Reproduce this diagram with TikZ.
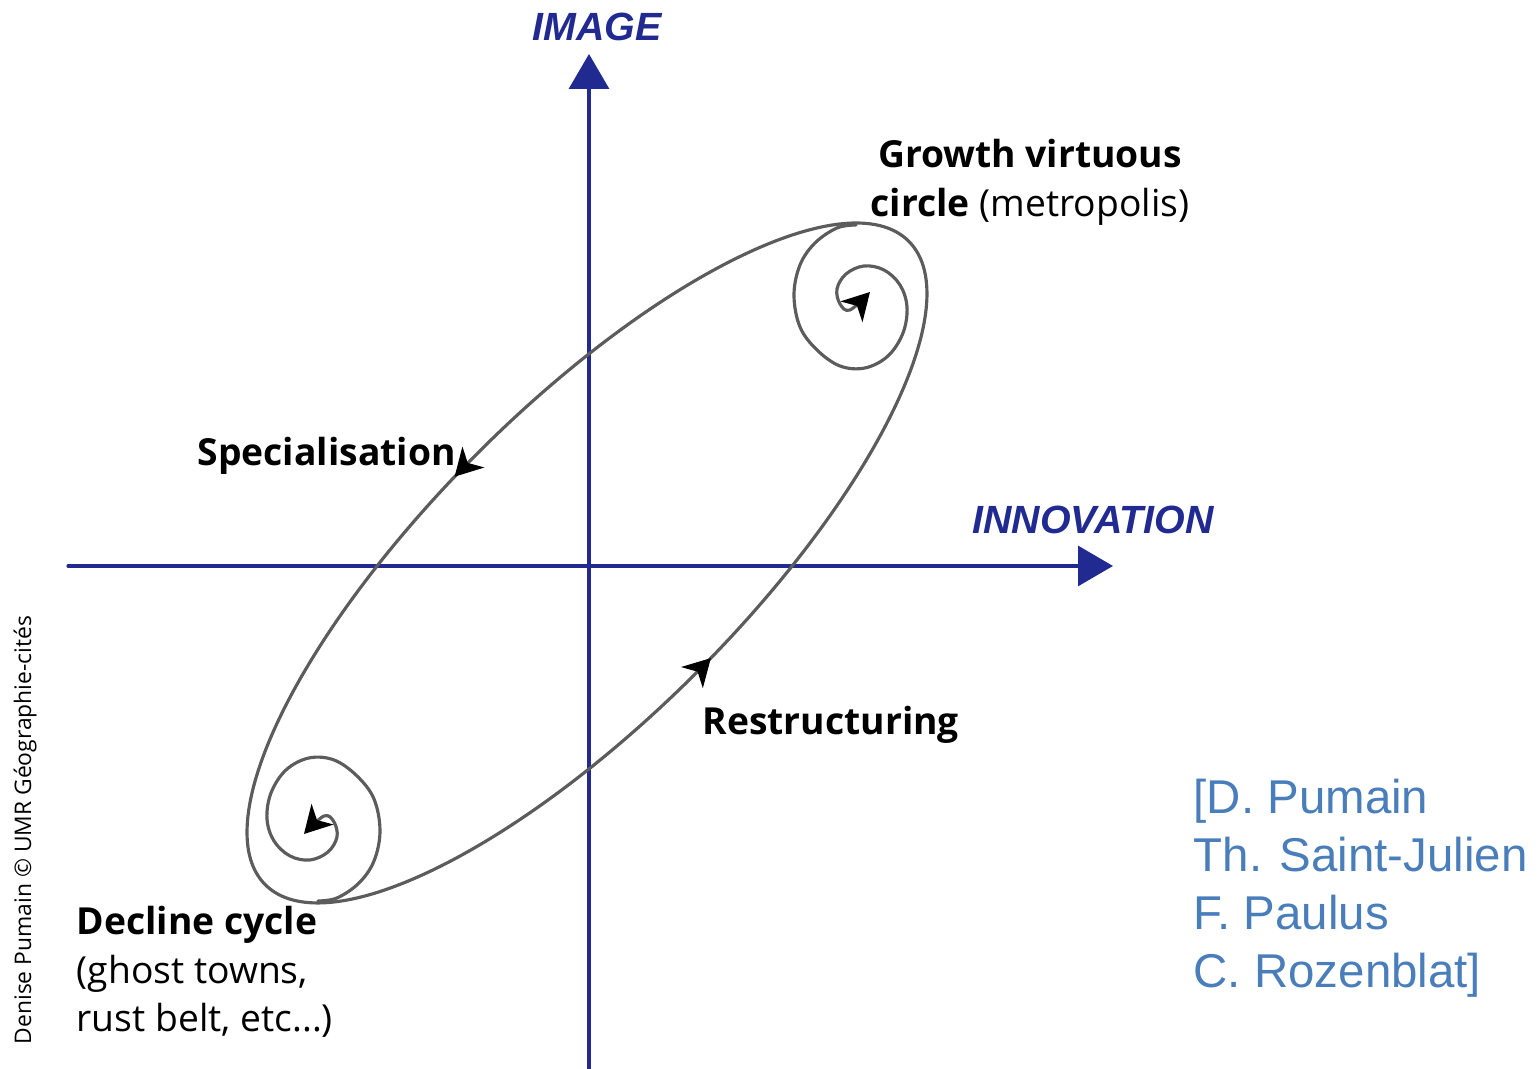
\documentclass[tikz,border=0pt]{standalone}
\usepackage{fontspec}
\usetikzlibrary{arrows.meta,decorations.markings}
\newfontfamily\labelfont{Open Sans}
\newfontfamily\axisfont{Liberation Sans}
\definecolor{axisblue}{RGB}{32,42,145}
\definecolor{refblue}{RGB}{74,126,187}
\definecolor{loopgray}{RGB}{92,92,92}
\tikzset{
  axis/.style={axisblue, line width=0.9pt, -{Triangle[length=0.35cm,width=0.40cm]}},
  loopline/.style={loopgray, line width=0.9pt},
  turn/.style={-{Stealth[length=0.27cm,width=0.30cm,inset=0.08cm,black]}},
  lbl/.style={font=\labelfont\fontsize{10.6}{13.7}\selectfont, inner sep=0pt},
  axlbl/.style={font=\axisfont\bfseries\itshape\fontsize{11.2}{13}\selectfont, text=axisblue, inner sep=0pt}
}
\begin{document}
\begin{tikzpicture}[scale=1, line join=round, line cap=round, >=stealth]
			\useasboundingbox (0,0) rectangle (15.4,10.69);
			\def\a{4.55}  % grand axe
			\def\b{1.55}  % petit axe
			\coordinate (O) at (5.89,5.03);
			\coordinate (C) at (5.87,5.06);
			\coordinate (ybot) at (5.89,0);
			\coordinate (ytop) at (5.89,10.15);
			\coordinate (xleft) at (0.68,5.03);
			\coordinate (xright) at (11.13,5.03);
			% axes
			\draw[axis] (ybot)--(ytop);
			\draw[axis] (xleft)--(xright);
			\node[axlbl] (image) at (5.97,10.42) {IMAGE};
			\node[axlbl] (innovation) at (10.93,5.49) {INNOVATION};
			% boucle
			\draw[loopline, rotate around={45:(C)},
				postaction={decorate, decoration={markings,
					mark=at position 0.266 with {\arrow{Stealth[length=0.27cm,width=0.30cm,inset=0.08cm,black]}},
					mark=at position 0.76 with {\arrow{Stealth[length=0.27cm,width=0.30cm,inset=0.08cm,black]}}}}]
				(C) ellipse (\a cm and \b cm);
			% spirales
			\foreach \r in {0,180}{
				\begin{scope}[shift={(C)}, rotate=\r]
					\draw[loopline, turn] plot[smooth, tension=0.6] coordinates {
						(2.69,3.38) (2.50,3.35) (2.28,3.20) (2.13,2.98) (2.07,2.68) (2.13,2.36)
						(2.30,2.13) (2.53,1.97) (2.78,1.95) (3.01,2.07) (3.16,2.30) (3.20,2.56)
						(3.13,2.78) (2.97,2.93) (2.77,2.97) (2.59,2.89) (2.50,2.74) (2.53,2.59)
						(2.63,2.53) (2.83,2.71)};
				\end{scope}
			}
			% textes
			\node[lbl, align=center, anchor=north] (growth) at (10.30,9.30)
				{\textbf{Growth virtuous}\\\textbf{circle} (metropolis)};
			\node[lbl, anchor=base west] (spec) at (1.97,6.03) {\textbf{Specialisation}};
			\node[lbl, anchor=base west] (restr) at (7.02,3.34) {\textbf{Restructuring}};
			\node[lbl, align=left, anchor=north west] (decline) at (0.76,1.63)
				{\textbf{Decline cycle}\\(ghost towns,\\rust belt, etc...)};
			\node[font=\axisfont\fontsize{13.5}{16.5}\selectfont, text=refblue, align=left,
				anchor=north west, inner sep=0pt] (authors) at (11.93,2.91)
				{[D. Pumain\\Th. Saint-Julien\\F. Paulus\\C. Rozenblat]};
			\node[font=\labelfont\fontsize{6.5}{8}\selectfont, rotate=90, anchor=base west,
				inner sep=0pt] (credit) at (0.31,0.24) {Denise Pumain © UMR Géographie-cités};
		\end{tikzpicture}
\end{document}
